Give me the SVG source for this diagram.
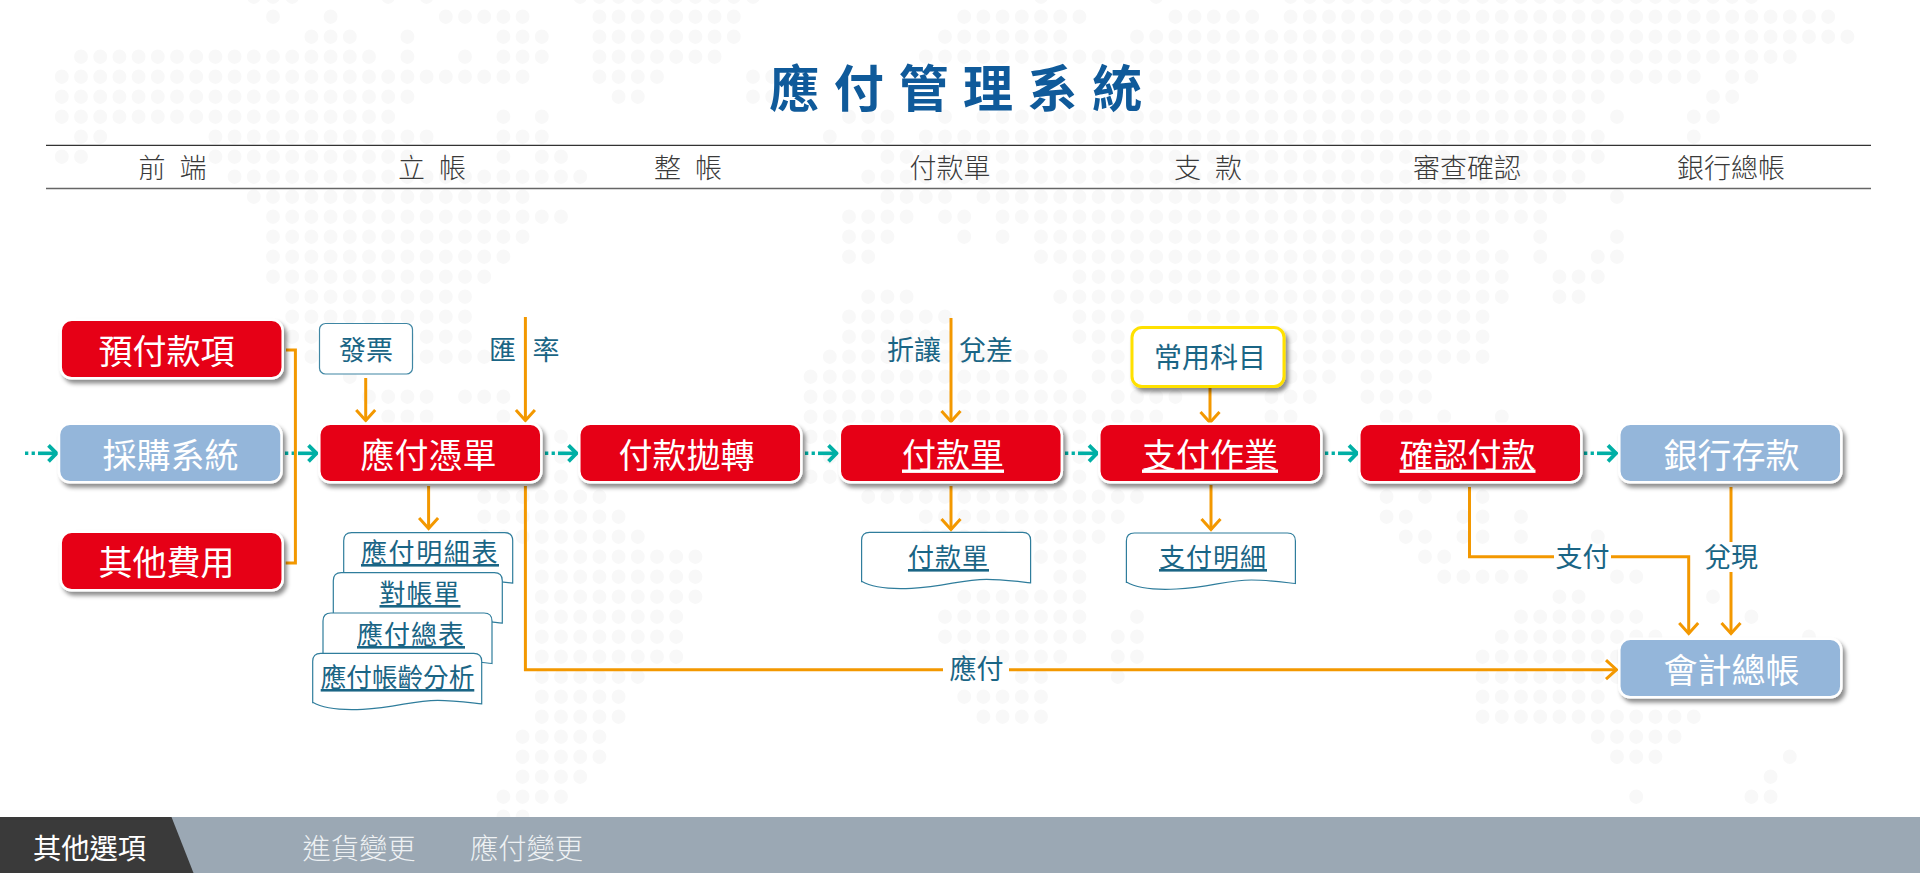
<svg xmlns="http://www.w3.org/2000/svg" width="1920" height="873" viewBox="0 0 1920 873">
<style>
text{font-family:"Noto Sans CJK TC","Noto Sans CJK SC",sans-serif;text-anchor:middle}
.h{font-size:27px;fill:#3a3a3a;font-weight:300}
.n{font-size:34px;fill:#fff}
.l{font-size:27px;fill:#1a6585}
.d{font-size:26px;fill:#1a6585;text-decoration:underline}
.u{text-decoration:underline}
.box{stroke:#fff;stroke-width:2.5;filter:url(#sh)}
.red{fill:#e60012}
.blue{fill:#94b6da}
.doc{fill:#fff;stroke:#2f7d9c;stroke-width:1.2}
.o{fill:none;stroke:#f39800;stroke-width:3}
.a{marker-end:url(#oa)}
.t{fill:none;stroke:#00afa5;stroke-width:3.600;marker-end:url(#ta)}
.td{fill:none;stroke:#00afa5;stroke-width:3.600;stroke-dasharray:3.300 3.300}
</style>
<defs>
<filter id="sh" x="-10%" y="-20%" width="125%" height="150%"><feDropShadow dx="3" dy="4" stdDeviation="2" flood-color="#000" flood-opacity=".45"/></filter>
<marker id="oa" markerUnits="userSpaceOnUse" markerWidth="26" markerHeight="26" refX="16" refY="13" orient="auto" overflow="visible"><path d="M5 3.500L15.500 13L5 22.500" fill="none" stroke="#f39800" stroke-width="3"/></marker>
<marker id="ta" markerUnits="userSpaceOnUse" markerWidth="26" markerHeight="26" refX="15" refY="13" orient="auto" overflow="visible"><path d="M6.500 5L14.500 13L6.500 21" fill="none" stroke="#00afa5" stroke-width="3.800"/></marker>
<path id="docshape" d="M0 50V8Q0 0 8 0H161Q169 0 169 8V50.500C155 49 140 47 125 47C100 47 85 54 50 56C30 57 12 56 0 49Z"/>
</defs>
<rect width="1920" height="873" fill="#fff"/>
<g id="background-dots" transform="translate(61.8 16.7) scale(19.2 20)">
<path fill="none" stroke="#f8f8f8" stroke-width=".72" stroke-linecap="round" stroke-dasharray="0 1" d="M10 -1H12.100M17 -1H17.100M19 -1H19.100M27 -1H36.100M51 -1H51.100M57 -1H57.100M64 -1H88.100
M11 0H11.100M14 0H14.100M20 0H24.100M28 0H35.100M47 0H53.100M58 0H62.100M64 0H92.100
M13 1H15.100M18 1H18.100M23 1H25.100M28 1H35.100M46 1H52.100M56 1H93.100
M1 2H16.100M18 2H18.100M21 2H21.100M23 2H25.100M28 2H34.100M45 2H90.100
M0 3H24.100M28 3H31.100M36 3H37.100M57 3H85.100M87 3H88.100
M0 4H18.100M29 4H30.100M36 4H37.100M57 4H80.100M86 4H87.100
M0 5H17.100M23 5H23.100M25 5H25.100M41 5H43.100M46 5H46.100M48 5H79.100M81 5H81.100M85 5H86.100
M1 6H2.100M8 6H19.100M23 6H25.100M40 6H40.100M42 6H43.100M45 6H80.100M85 6H85.100
M0 7H1.100M8 7H18.100M23 7H23.100M25 7H26.100M43 7H80.100
M9 8H27.100M42 8H79.100
M10 9H24.100M43 9H46.100M48 9H78.100M81 9H81.100
M11 10H26.100M41 10H44.100M46 10H47.100M49 10H77.100
M11 11H24.100M41 11H43.100M47 11H47.100M49 11H49.100M51 11H74.100M77 11H77.100M81 11H81.100
M11 12H23.100M41 12H42.100M51 12H75.100M77 12H77.100M80 12H81.100
M11 13H22.100M53 13H75.100M78 13H80.100
M12 14H21.100M42 14H44.100M52 14H75.100M78 14H79.100
M12 15H21.100M41 15H46.100M53 15H56.100M59 15H74.100
M12 16H21.100M41 16H46.100M53 16H55.100M60 16H74.100
M13 17H22.100M40 17H51.100M54 17H55.100M60 17H74.100
M15 18H15.100M39 18H52.100M54 18H55.100M64 18H66.100M68 18H71.100
M16 19H19.100M21 19H23.100M39 19H53.100M55 19H58.100M63 19H65.100M68 19H71.100
M17 20H19.100M23 20H23.100M39 20H57.100M63 20H64.100M69 20H70.100M72 20H72.100M75 20H75.100
M26 21H26.100M39 21H40.100M53 21H53.100
M26 22H26.100M40 22H40.100M53 22H53.100
M26 23H26.100M39 23H40.100M53 23H53.100
M22 24H28.100M42 24H56.100M69 24H69.100M71 24H71.100M74 24H74.100
M22 25H29.100M45 25H55.100M69 25H70.100M73 25H74.100M76 25H76.100
M22 26H30.100M45 26H54.100M70 26H71.100M73 26H74.100M76 26H76.100M80 26H80.100
M25 27H33.100M51 27H53.100M71 27H72.100
M25 28H33.100M52 28H53.100M72 28H76.100M81 28H82.100
M25 29H33.100M47 29H53.100M78 29H79.100M86 29H86.100
M25 30H32.100M46 30H53.100M56 30H56.100M76 30H82.100M88 30H88.100
M25 31H32.100M46 31H53.100M55 31H56.100M75 31H83.100M91 31H91.100
M25 32H32.100M47 32H52.100M55 32H56.100M74 32H83.100
M25 33H30.100M50 33H51.100M55 33H55.100M74 33H81.100
M25 34H29.100M47 34H51.100M74 34H80.100
M25 35H29.100M48 35H51.100M74 35H85.100
M24 36H28.100M80 36H84.100
M24 37H28.100M81 37H83.100M90 37H90.100
M24 38H27.100M89 38H89.100
M23 39H26.100M82 39H82.100M88 39H89.100
M23 40H24.100"/>
</g>
<g id="header">
<text x="963" y="107" font-size="50" font-weight="700" fill="#0f5a9a" letter-spacing="14.600">應付管理系統</text>
<line x1="46" y1="145.400" x2="1871" y2="145.400" stroke="#333" stroke-width="1.300"/>
<line x1="46" y1="188.500" x2="1871" y2="188.500" stroke="#666" stroke-width="1.500"/>
<text class="h" x="179.500" y="178" letter-spacing="14">前端</text>
<text class="h" x="439" y="178" letter-spacing="14">立帳</text>
<text class="h" x="695" y="178" letter-spacing="14">整帳</text>
<text class="h" x="950" y="178">付款單</text>
<text class="h" x="1215" y="178" letter-spacing="14">支款</text>
<text class="h" x="1467" y="178">審查確認</text>
<text class="h" x="1731" y="178">銀行總帳</text>
</g>
<g id="connectors">
<path class="td" d="M25 453.300H35"/><path class="t" d="M38 453.300H57"/>
<path class="td" d="M285 453.300H295"/><path class="t" d="M298 453.300H317"/>
<path class="td" d="M545 453.300H555"/><path class="t" d="M558 453.300H577"/>
<path class="td" d="M805 453.300H815"/><path class="t" d="M818 453.300H837"/>
<path class="td" d="M1065 453.300H1075"/><path class="t" d="M1078 453.300H1097.500"/>
<path class="td" d="M1325 453.300H1335"/><path class="t" d="M1338 453.300H1357.500"/>
<path class="td" d="M1584 453.300H1594"/><path class="t" d="M1597 453.300H1616.500"/>
<path class="o" d="M286 350H295.400V563H285.700"/>
<path class="o a" d="M365.700 378V421"/>
<path class="o a" d="M525.400 317V421"/>
<path class="o a" d="M951 318V422"/>
<path class="o a" d="M1210 388V423"/>
<path class="o a" d="M428.600 486V529"/>
<path class="o a" d="M951 486V530"/>
<path class="o a" d="M1211 485V530"/>
<path class="o" d="M525.400 486V669.700H943"/>
<path class="o a" d="M1009 669.700H1617"/>
<path class="o" d="M1469.500 487V556.700H1554"/>
<path class="o a" d="M1611 556.700H1688.700V634"/>
<path class="o" d="M1731 487V542"/>
<path class="o a" d="M1731 572V634"/>
</g>
<g id="node-prepay"><rect class="box red" x="60.700" y="319.800" width="222" height="58.500" rx="11"/><text class="n" x="166.500" y="363.500">預付款項</text></g>
<g id="node-purchase"><rect class="box blue" x="59" y="423.800" width="222.500" height="58.500" rx="11"/><text class="n" x="170.500" y="467.500">採購系統</text></g>
<g id="node-other"><rect class="box red" x="60.700" y="531.800" width="222" height="58.500" rx="11"/><text class="n" x="166.500" y="575">其他費用</text></g>
<g id="node-voucher"><rect class="box red" x="319.300" y="423.800" width="222" height="58.500" rx="11"/><text class="n" x="428.500" y="467.500">應付憑單</text></g>
<g id="node-transfer"><rect class="box red" x="579.300" y="423.800" width="222" height="58.500" rx="11"/><text class="n" x="686.500" y="467.500">付款拋轉</text></g>
<g id="node-payslip"><rect class="box red" x="839.800" y="423.800" width="222" height="58.500" rx="11"/><text class="n u" x="953" y="467.500">付款單</text></g>
<g id="node-payment"><rect class="box red" x="1099.300" y="423.800" width="222" height="58.500" rx="11"/><text class="n u" x="1210" y="467.500">支付作業</text></g>
<g id="node-confirm"><rect class="box red" x="1359.300" y="423.800" width="222" height="58.500" rx="11"/><text class="n u" x="1467.500" y="467.500">確認付款</text></g>
<g id="node-bank"><rect class="box blue" x="1619.300" y="423.800" width="222" height="58.500" rx="11"/><text class="n" x="1731.500" y="467.500">銀行存款</text></g>
<g id="node-gl"><rect class="box blue" x="1619.300" y="638.800" width="222" height="58.500" rx="11"/><text class="n" x="1731.500" y="683">會計總帳</text></g>
<g id="node-invoice"><rect x="319.500" y="323.500" width="93" height="50.500" rx="6" fill="#fff" stroke="#3f86a3" stroke-width="1.200"/><text class="l" x="366" y="360">發票</text></g>
<g id="node-subjects"><rect x="1132" y="327.500" width="152" height="59" rx="10" fill="#fff" stroke="#ffe100" stroke-width="3" style="filter:url(#sh)"/><text class="l" x="1210" y="367.500" style="font-size:28px">常用科目</text></g>
<g id="node-doc1"><use href="#docshape" class="doc" x="343.700" y="532.700"/><text class="d" x="430" y="562" letter-spacing="1.600">應付明細表</text></g>
<g id="node-doc2"><use href="#docshape" class="doc" x="333.300" y="572.700"/><text class="d" x="420" y="603" letter-spacing="1">對帳單</text></g>
<g id="node-doc3"><use href="#docshape" class="doc" x="323" y="613"/><text class="d" x="411" y="644" letter-spacing="1">應付總表</text></g>
<g id="node-doc4"><use href="#docshape" class="doc" x="312.700" y="653.300"/><text class="d" x="397.500" y="687" style="font-size:25.600px">應付帳齡分析</text></g>
<g id="node-doc5"><use href="#docshape" class="doc" x="861.600" y="532.300"/><text class="d" x="948.500" y="567" letter-spacing="1">付款單</text></g>
<g id="node-doc6"><use href="#docshape" class="doc" x="1126.400" y="533"/><text class="d" x="1213" y="567" letter-spacing="1">支付明細</text></g>
<g id="edge-labels">
<text class="l" x="502.500" y="360">匯</text>
<text class="l" x="546" y="360">率</text>
<text class="l" x="914" y="360">折讓</text>
<text class="l" x="986" y="360">兌差</text>
<text class="l" x="976.500" y="678.500">應付</text>
<text class="l" x="1582.500" y="566.500">支付</text>
<text class="l" x="1731" y="566.500">兌現</text>
</g>
<g id="bottom-bar">
<rect y="817" width="1920" height="56" fill="#9ba8b4"/>
<polygon points="0,817 171.500,817 193.500,873 0,873" fill="#3a3a3a"/>
<text x="89.500" y="859" font-size="28.300" fill="#fff">其他選項</text>
<text x="359" y="859" font-size="28.300" fill="#eef1f3" font-weight="300">進貨變更</text>
<text x="526.500" y="859" font-size="28.300" fill="#eef1f3" font-weight="300">應付變更</text>
</g>
</svg>
